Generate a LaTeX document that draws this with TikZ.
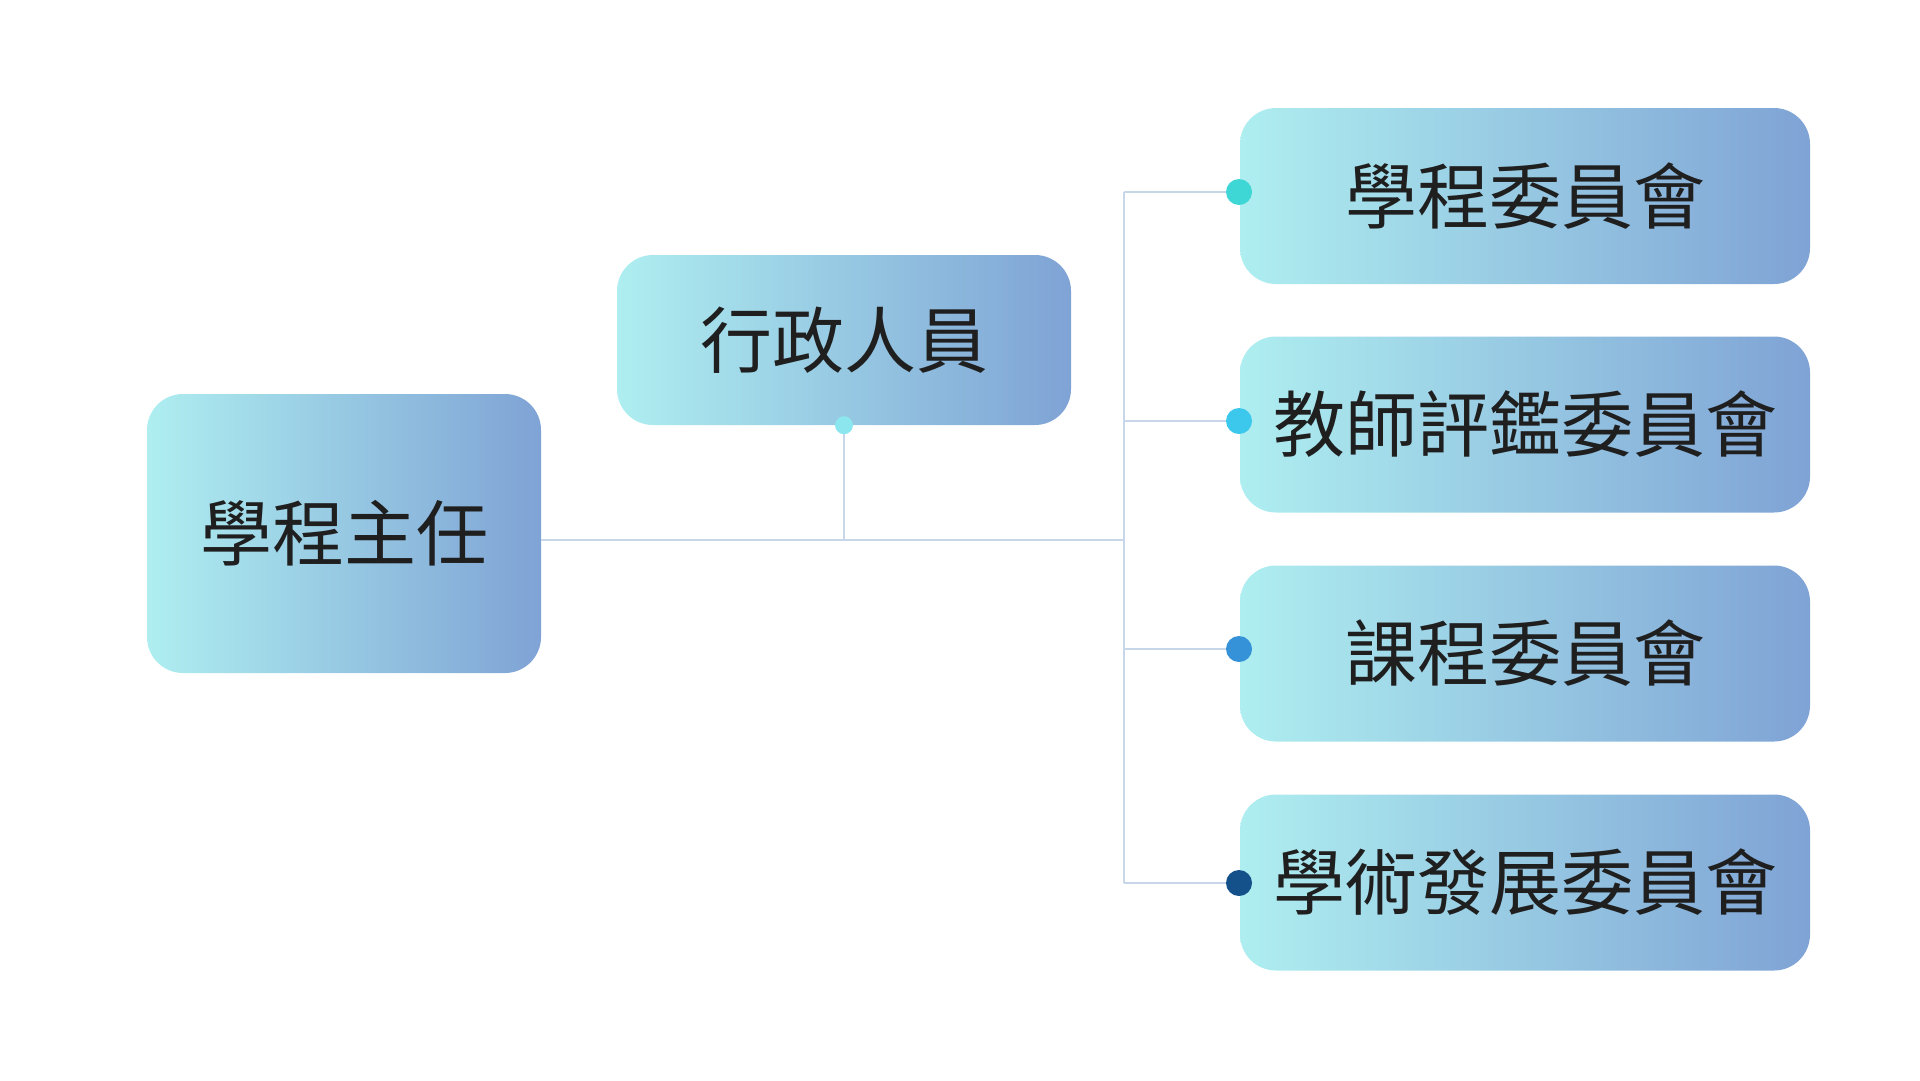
\documentclass[tikz,border=0pt]{standalone}
\usepackage{fontspec}
\newfontfamily\cjk{Noto Sans CJK TC}
\usetikzlibrary{positioning}
\definecolor{boxleft}{HTML}{AEEEF0}
\definecolor{boxright}{HTML}{7FA3D5}
\definecolor{linkline}{HTML}{C8D6EA}
\definecolor{dotA}{HTML}{3FD6D6}
\definecolor{dotB}{HTML}{3BC8EC}
\definecolor{dotC}{HTML}{3592D8}
\definecolor{dotD}{HTML}{14508A}
\definecolor{dotE}{HTML}{8CE6EE}
\tikzset{
  unit/.style={rounded corners=36pt, left color=boxleft, right color=boxright,
    draw=none, inner sep=0pt, font=\cjk\fontsize{72}{80}\selectfont, text=black!88},
  link/.style={draw=linkline, line width=1.5pt},
  dot/.style={circle, inner sep=0pt, minimum size=26pt}
}
\begin{document}
\begin{tikzpicture}[x=1pt,y=-1pt]
    \useasboundingbox (0,0) rectangle (1920,1080);

    \node[unit, minimum width=394pt, minimum height=279pt] (head) at (344,533.5) {學程主任};
    \node[unit, minimum width=454pt, minimum height=170pt] (staff) at (844,340) {行政人員};
    \node[unit, minimum width=570pt, minimum height=176pt] (c1) at (1525,196) {學程委員會};
    \node[unit, minimum width=570pt, minimum height=176pt] (c2) at (1525,424.5) {教師評鑑委員會};
    \node[unit, minimum width=570pt, minimum height=176pt] (c3) at (1525,653.5) {課程委員會};
    \node[unit, minimum width=570pt, minimum height=176pt] (c4) at (1525,882.5) {學術發展委員會};

    \coordinate (trunktop) at (1124,192);
    \coordinate (trunkbot) at (1124,883);
    \coordinate (hub) at (1124,540);
    \coordinate (staffjoin) at (844,540);

    \draw[link] (head.east |- hub) -- (hub);
    \draw[link] (trunktop) -- (trunkbot);
    \draw[link] (staff.south) -- (staffjoin);

    \node[dot, fill=dotE, minimum size=18pt] (sdot) at (staff.south) {};
    \node[dot, fill=dotA] (d1) at (1239,192) {};
    \node[dot, fill=dotB] (d2) at (1239,421) {};
    \node[dot, fill=dotC] (d3) at (1239,649) {};
    \node[dot, fill=dotD] (d4) at (1239,883) {};

    \draw[link] (trunktop) -- (d1);
    \draw[link] (trunktop |- d2) -- (d2);
    \draw[link] (trunktop |- d3) -- (d3);
    \draw[link] (trunkbot) -- (d4);
\end{tikzpicture}
\end{document}
